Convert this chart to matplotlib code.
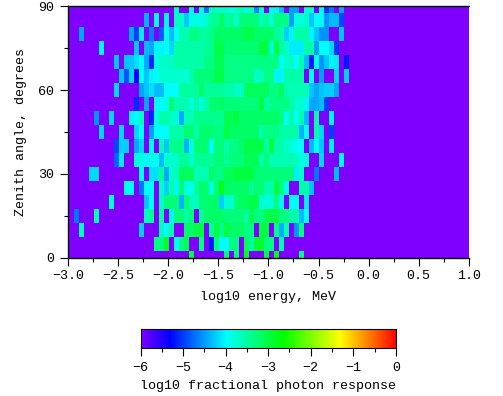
import numpy as np
import matplotlib
matplotlib.use('Agg')
import matplotlib.pyplot as plt
from matplotlib.colors import LinearSegmentedColormap
from matplotlib.ticker import MultipleLocator

_ = -6.0  # empty bin

# log10 response per energy bin, (first energy bin, values), one row per zenith angle
zen_90 = (22, [-3.7, _, _, -3.95, _, -3.85, -4.75, -3.7, -3.7, -3.75, -3.75, -3.85, -3.7, -3.65, -3.85, -3.7, -4.65, -3.7, _, -4.05, -4.05, -4.35, _, -4.5, -4.5, _, -3.8, -3.8, _, -4.0, -5.05, -4.7, _, -4.45])
zen_85 = (16, [-4.4, _, -4.0, _, -4.05, _, -3.7, -3.7, -4.3, -3.85, -3.85, -3.85, -3.75, -3.45, -3.45, -3.2, -3.5, -3.45, -3.7, -3.3, -3.3, -3.3, -3.3, -3.65, -3.45, -3.8, -3.35, -3.35, -3.35, -4.5, -3.8, -3.8, -3.7, -4.3, -4.0, -4.0, -4.55, -4.35, -4.35, -4.95])
zen_80 = (3, [-4.45, _, _, _, _, _, _, _, _, _, -4.45, -5.0, -4.1, _, -4.65, _, -4.85, -3.9, -4.35, -4.0, -3.6, -3.6, -3.35, -3.35, -3.5, -3.5, -3.35, -3.2, -3.2, -3.2, -3.2, -3.2, -3.2, -3.05, -3.05, -3.2, -3.2, -3.2, -3.2, -3.45, -3.55, -4.25, -4.05, -3.55, -3.55, -3.55, -4.05, -4.3, -4.55, -4.55, _, _, -4.3])
zen_75 = (7, [-4.05, _, _, _, _, _, _, -4.3, _, -4.35, -4.45, -4.05, -4.05, -4.0, -4.2, -3.55, -3.55, -3.55, -3.55, -3.55, -3.55, -3.45, -3.45, -3.05, -3.05, -3.3, -3.25, -3.25, -3.25, -3.25, -3.25, -3.25, -3.0, -3.0, -3.8, -3.0, -3.55, -3.7, -4.1, -4.1, -4.1, -3.55, -3.55, -4.5, -4.0, -4.0, -4.2, -5.05])
zen_70 = (10, [-4.3, _, -4.3, -4.3, -4.15, -4.0, -4.45, -5.1, -3.9, -3.7, -3.7, -3.7, -3.55, -3.55, -3.55, -3.55, -3.55, -3.55, -3.35, -3.35, -3.1, -3.1, -3.35, -3.35, -3.35, -3.35, -3.35, -3.35, -3.35, -3.35, -3.35, -3.35, -3.35, -3.95, -3.7, -3.7, -4.0, -3.55, -4.35, -5.2, -4.0, -4.55, -4.3, -4.05, -4.1, _, -5.2])
zen_65 = (11, [-4.3, -4.9, -4.2, -5.33, -4.0, -4.3, -4.05, -4.0, -3.75, -3.75, -3.75, -3.75, -3.75, -3.8, -3.55, -3.3, -3.3, -3.3, -3.3, -3.05, -3.05, -3.35, -3.35, -3.35, -3.35, -3.35, -3.35, -3.7, -3.6, -3.35, -3.35, -4.05, -4.05, -3.55, -3.55, -3.55, -3.55, _, -4.0, _, -4.5, _, _, -4.2, _, -4.25])
zen_60 = (10, [-4.2, _, _, _, _, -4.45, -4.3, -4.15, -4.35, -4.35, -4.0, -4.0, -4.0, -3.5, -3.5, -3.5, -3.5, -3.2, -3.45, -3.45, -3.45, -3.45, -3.55, -3.55, -3.7, -3.7, -3.15, -3.15, -3.15, -3.15, -3.15, -3.35, -3.35, -3.15, -3.6, -3.6, -3.6, -3.6, -3.6, -4.3, -4.45, -4.3, -4.25, -4.25, -4.45])
zen_55 = (14, [-5.1, _, -4.45, _, -4.0, -4.0, -3.9, -3.25, -3.6, -3.6, -3.6, -3.8, -3.55, -3.85, -3.55, -3.25, -3.25, -3.2, -3.3, -3.3, -3.3, -3.3, -3.3, -3.3, -3.3, -3.0, -3.55, -3.35, -3.35, -3.35, -3.35, -3.55, -3.75, -3.75, -4.05, -4.45, -4.45, -4.35, -5.0])
zen_50 = (6, [-4.55, _, _, -4.2, _, _, _, -4.05, -4.0, -3.65, _, -5.15, -3.9, -3.55, -3.55, -3.75, -3.75, -4.45, -3.6, -3.6, -3.4, -3.4, -3.4, -3.4, -3.4, -3.4, -3.1, -3.1, -3.0, -3.2, -3.2, -3.2, -3.2, -3.2, -3.2, -3.2, -3.2, -3.35, -3.95, -3.55, -4.0, -3.55, -4.35, _, -3.55, _, _, -4.05])
zen_45 = (7, [-4.2, _, _, _, -4.2, _, _, -4.2, -4.0, _, -4.5, -4.0, -4.0, -4.0, -3.55, -3.55, -3.55, -3.25, -3.25, -3.55, -3.25, -3.25, -3.25, -3.35, -3.35, -3.0, -3.2, -3.2, -3.2, -3.2, -3.2, -3.2, -3.55, -3.35, -3.35, -3.35, -3.55, -3.55, -3.55, -3.55, -4.4, -4.0, _, -3.55, -4.2, _, -5.0])
zen_40 = (10, [-4.95, -4.25, -4.25, _, -4.45, -4.2, _, -4.0, _, -3.6, -4.3, -3.4, -3.4, -3.4, -4.4, -3.85, -3.25, -3.25, -3.25, -4.0, -3.3, -3.3, -3.55, -3.35, -3.35, -3.2, -3.05, -3.05, -3.05, -3.05, -3.55, -3.0, -3.55, -3.55, -3.7, -3.8, -3.95, -3.95, _, -4.35, -4.0, -4.3, _, -4.1])
zen_35 = (10, [-4.8, -4.1, _, _, -3.85, -3.85, -4.0, -3.9, -4.0, -4.35, -3.75, -3.75, -3.75, -3.45, -3.45, -3.75, -3.45, -3.45, -3.45, -3.45, -3.3, -3.3, -3.45, -3.3, -3.3, -3.3, -3.1, -3.1, -3.1, -3.55, -3.3, -3.6, -3.6, -3.6, -3.6, -3.6, -3.65, -3.85, -3.85, _, _, -4.2, _, _, _, -4.05])
zen_30 = (5, [-4.2, -4.2, _, _, _, _, _, _, _, _, -4.0, _, -4.15, -4.15, -3.45, -4.45, -3.7, -3.7, -3.15, -3.15, -3.15, -3.6, -3.6, -3.6, -3.2, -3.35, -3.35, -3.1, -3.1, -3.0, -3.0, -3.0, -3.0, -3.3, -3.3, -3.3, -3.3, -3.3, -3.3, -3.3, -3.3, -4.1, -3.7, _, _, -4.7, _, _, _, -4.35])
zen_25 = (12, [-4.0, -4.0, _, -4.7, -4.0, -4.0, _, -3.7, -4.25, -3.55, -4.05, -3.25, -3.9, -3.9, -3.45, -3.25, -3.25, -3.85, -3.25, -2.8, -3.2, -3.2, -3.2, -3.2, -3.2, -3.45, -3.25, -3.25, -3.55, -3.55, -3.0, -3.35, -3.9, _, _, -3.55, -3.55, -4.3])
zen_20 = (9, [-3.75, _, _, _, _, _, _, -4.3, -3.95, _, -3.7, -3.3, -3.3, -3.3, -4.4, -3.25, -3.65, -3.65, -3.25, -3.25, -3.2, -3.2, -4.25, -3.75, -3.75, -3.3, -3.15, -3.15, -3.05, -3.05, -3.8, -3.8, -3.8, -3.3, -4.05, _, -4.0, -4.0, _, -4.1])
zen_15 = (2, [-4.7, _, _, _, -3.65, _, _, _, _, _, _, _, _, _, -3.65, -3.45, _, -3.55, _, -4.05, -3.3, -3.3, -3.55, -3.3, _, -3.45, -3.2, -3.2, -3.2, -3.2, -3.3, -3.3, -3.3, -3.3, -3.55, -3.05, -3.35, -3.35, -3.05, -3.05, -3.05, -3.35, -3.35, -3.55, -3.55, -4.35, -4.0])
zen_10 = (3, [-3.65, _, _, _, _, _, _, _, _, _, _, _, -4.25, _, _, _, -3.65, -4.0, -3.55, _, _, -3.2, -3.2, -3.0, -3.0, _, -3.45, -3.0, -3.4, -3.0, -3.2, -3.2, -3.2, -3.35, -3.35, _, -3.0, -3.0, _, -3.35, -4.45, -3.6, _, -4.55, -3.35])
zen_05 = (18, [-3.35, -3.35, -2.85, _, -4.0, -3.35, -3.1, _, _, -3.35, _, -5.2, -3.3, -4.0, -4.0, -3.35, -3.35, _, -3.1, -3.55, -2.9, -2.9, -3.35, -3.35, _, -3.55])
zen_00 = (25, [-3.0, _, _, _, _, _, _, -3.2, _, -3.35, _, -2.8, _, _, _, -3.0, _, -2.75, _, _, _, _, -3.35])

rows = [zen_00, zen_05, zen_10, zen_15, zen_20, zen_25, zen_30, zen_35, zen_40, zen_45,
        zen_50, zen_55, zen_60, zen_65, zen_70, zen_75, zen_80, zen_85, zen_90]

response = np.full((19, 81), _)
for j, (start, vals) in enumerate(rows):
    response[j, start:start + len(vals)] = vals

x_edges = -3.043 + 0.05 * np.arange(82)
y_edges = -2.5 + 5.0 * np.arange(20)

cmap = LinearSegmentedColormap.from_list('rainbow_idl', [
    (0.0, (0.5, 0, 1)),
    (0.67 / 6, (0, 0, 1)),
    (2.0 / 6, (0, 1, 1)),
    (3.33 / 6, (0, 1, 0)),
    (4.67 / 6, (1, 1, 0)),
    (1.0, (1, 0, 0)),
], N=512)

W, H = 503, 396
plt.rcParams['font.family'] = ['Liberation Mono', 'DejaVu Sans Mono']
plt.rcParams['font.size'] = 9.6


def px_axes(fig, left, right, top, bottom):
    return fig.add_axes([left / W, 1 - bottom / H, (right - left) / W, (bottom - top) / H])


def style_ticks(ax, axis, pad=3):
    ax.tick_params(axis=axis, which='major', length=5.8, width=0.8, color='black', pad=pad)
    ax.tick_params(axis=axis, which='minor', length=3, width=0.8, color='black')


fig = plt.figure(figsize=(W / 100, H / 100), dpi=100)

ax = px_axes(fig, 68, 468.8, 6.5, 257.5)
ax.pcolormesh(x_edges, y_edges, response, cmap=cmap, vmin=-6, vmax=0, shading='flat')
ax.set_xlim(-3, 1)
ax.set_ylim(0, 90)
ax.xaxis.set_major_locator(MultipleLocator(0.5))
ax.xaxis.set_minor_locator(MultipleLocator(0.25))
ax.yaxis.set_major_locator(MultipleLocator(30))
ax.yaxis.set_minor_locator(MultipleLocator(15))
ax.xaxis.set_major_formatter(lambda v, pos: f'{v:.1f}'.replace('-', '\u2212'))
style_ticks(ax, 'x')
style_ticks(ax, 'y', pad=4)
ax.spines['right'].set_visible(False)
for side in ['top', 'left', 'bottom']:
    ax.spines[side].set_linewidth(1.0)
ax.set_xlabel('log10 energy, MeV', labelpad=7)
ax.set_ylabel('Zenith angle, degrees', labelpad=8)

cax = px_axes(fig, 140.5, 395.8, 329.3, 348)
cax.imshow(np.linspace(-6, 0, 512)[None, :], cmap=cmap, vmin=-6, vmax=0, aspect='auto',
           extent=[-6, 0, 0, 1])
cax.set_yticks([])
cax.xaxis.set_major_locator(MultipleLocator(1))
cax.xaxis.set_minor_locator(MultipleLocator(0.5))
cax.xaxis.set_major_formatter(lambda v, pos: f'{v:.0f}'.replace('-', '\u2212'))
style_ticks(cax, 'x', pad=4.5)
cax.set_xlabel('log10 fractional photon response', labelpad=4)

fig.savefig('out.png', dpi=100)
